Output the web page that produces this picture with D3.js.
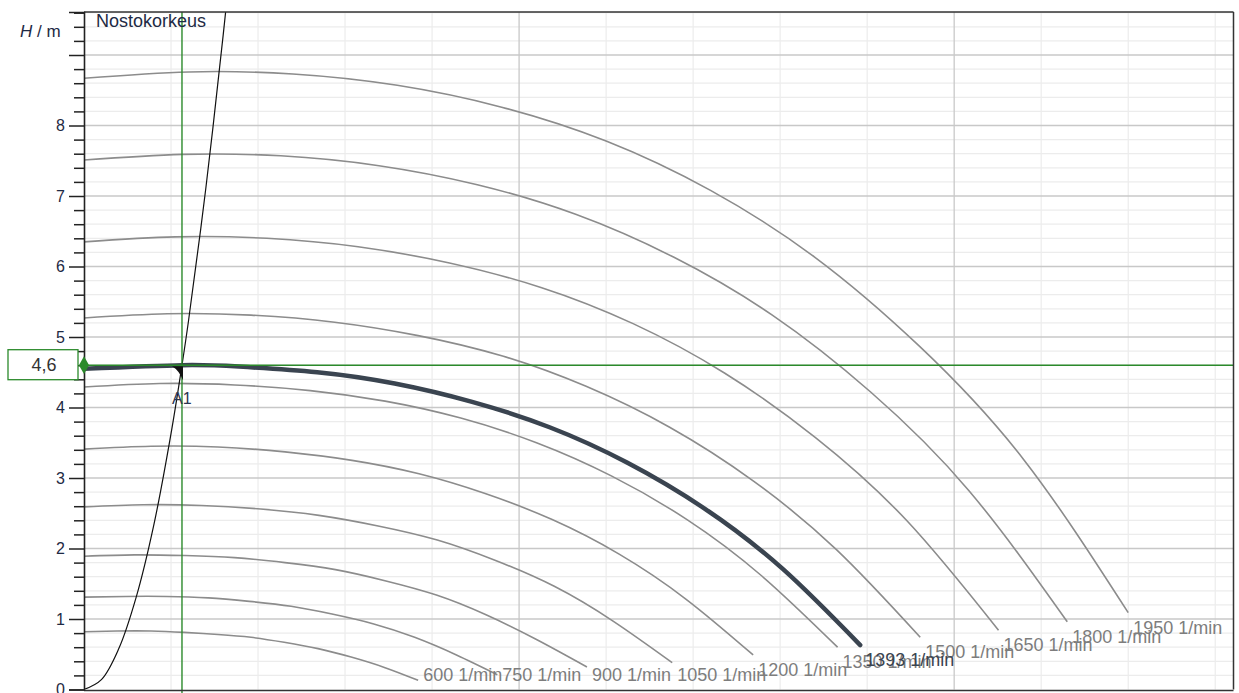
<!DOCTYPE html>
<html>
<head>
<meta charset="utf-8">
<script src="https://cdn.jsdelivr.net/npm/d3@7"></script>
<style>
  html, body { margin: 0; padding: 0; background: #fff; }
  svg { display: block; font-family: "Liberation Sans", Arial, sans-serif; }
</style>
</head>
<body>
<svg id="chart" width="1239" height="693"></svg>
<script>
// Pump speeds (1/min) and their head curves: flow Q (grid units) vs head H (m)
const speeds = [600, 750, 900, 1050, 1200, 1350, 1500, 1650, 1800, 1950];
const curveQ = {
  600:  [0, 0.38, 0.77, 1.15, 1.54, 1.92, 2.30, 2.69, 3.07, 3.46, 3.84],
  750:  [0, 0.48, 0.95, 1.43, 1.90, 2.38, 2.85, 3.33, 3.80, 4.28, 4.75],
  900:  [0, 0.58, 1.16, 1.73, 2.31, 2.89, 3.47, 4.05, 4.62, 5.20, 5.78],
  1050: [0, 0.68, 1.35, 2.03, 2.70, 3.38, 4.06, 4.73, 5.41, 6.08, 6.76],
  1200: [0, 0.77, 1.54, 2.31, 3.08, 3.85, 4.61, 5.38, 6.15, 6.92, 7.69],
  1350: [0, 0.87, 1.73, 2.60, 3.46, 4.33, 5.20, 6.06, 6.93, 7.79, 8.66],
  1500: [0, 0.96, 1.92, 2.88, 3.84, 4.81, 5.77, 6.73, 7.69, 8.65, 9.61],
  1650: [0, 1.05, 2.10, 3.15, 4.20, 5.26, 6.31, 7.36, 8.41, 9.46, 10.51],
  1800: [0, 1.13, 2.26, 3.39, 4.52, 5.65, 6.78, 7.91, 9.04, 10.17, 11.30],
  1950: [0, 1.20, 2.40, 3.60, 4.80, 6.00, 7.20, 8.40, 9.60, 10.80, 12.00]
};
const curveH = {
  600:  [0.82, 0.83, 0.83, 0.81, 0.78, 0.74, 0.67, 0.58, 0.46, 0.31, 0.13],
  750:  [1.31, 1.32, 1.32, 1.30, 1.25, 1.18, 1.07, 0.93, 0.74, 0.49, 0.21],
  900:  [1.89, 1.91, 1.90, 1.87, 1.80, 1.70, 1.54, 1.34, 1.06, 0.71, 0.32],
  1050: [2.59, 2.62, 2.61, 2.56, 2.47, 2.32, 2.12, 1.83, 1.46, 0.97, 0.38],
  1200: [3.41, 3.45, 3.44, 3.37, 3.25, 3.06, 2.78, 2.41, 1.92, 1.28, 0.49],
  1350: [4.29, 4.34, 4.32, 4.24, 4.09, 3.85, 3.50, 3.03, 2.41, 1.61, 0.60],
  1500: [5.27, 5.33, 5.31, 5.21, 5.02, 4.73, 4.30, 3.72, 2.96, 1.98, 0.74],
  1650: [6.35, 6.42, 6.40, 6.28, 6.05, 5.70, 5.19, 4.49, 3.57, 2.39, 0.84],
  1800: [7.51, 7.59, 7.57, 7.43, 7.16, 6.74, 6.13, 5.31, 4.22, 2.82, 0.96],
  1950: [8.67, 8.76, 8.73, 8.57, 8.26, 7.78, 7.08, 6.13, 4.87, 3.26, 1.09]
};

// Operating speed curve (bold)
const opSpeed = 1393;
const opQ = [0, 1.13, 1.78, 2.68, 3.57, 4.46, 5.35, 6.24, 7.14, 8.03, 8.92];
const opH = [4.55, 4.60, 4.58, 4.50, 4.34, 4.08, 3.72, 3.22, 2.56, 1.71, 0.63];

// System curve "Nostokorkeus"
const sysQ = [0, 0.2, 0.4, 0.6, 0.8, 1.0, 1.126, 1.2, 1.4, 1.6, 1.66];
const sysH = [0, 0.14, 0.58, 1.31, 2.32, 3.63, 4.6, 5.22, 7.11, 9.29, 10.0];

// Operating point
const pointQ = 1.126;
const pointH = 4.6;
const pointLabel = "A1";
const pointValueText = "4,6";

const yTicksMajor = [0, 1, 2, 3, 4, 5, 6, 7, 8, 9];
const yTickLabels = ["0", "1", "2", "3", "4", "5", "6", "7", "8", ""];
const yTitle = "H";
const yUnit = " / m";
const sysTitle = "Nostokorkeus";
const unitSuffix = " 1/min";

(function draw() {
  const svg = d3.select("#chart");
  const pL = 84, pR = 1233.5, pT = 12, pB = 689.5;

  const x = d3.scaleLinear().domain([0, 13.21]).range([pL, pR]);
  const y = d3.scaleLinear().domain([0, 9.61]).range([pB, pT]);

  svg.append("defs").append("clipPath").attr("id", "plotClip")
    .append("rect").attr("x", pL).attr("y", pT)
    .attr("width", pR - pL).attr("height", pB - pT);

  // Grid
  const grid = svg.append("g");
  const minorY = d3.range(0.2, 9.61, 0.2).filter(v => Math.abs(v - Math.round(v)) > 1e-6);
  grid.selectAll("line.hmin").data(minorY).join("line")
    .attr("x1", pL).attr("x2", pR)
    .attr("y1", d => y(d)).attr("y2", d => y(d))
    .attr("stroke", "#ececec").attr("stroke-width", 1.2);
  const minorX = d3.range(1, 14).filter(v => v % 5 !== 0 && x(v) < pR);
  grid.selectAll("line.vmin").data(minorX).join("line")
    .attr("x1", d => x(d)).attr("x2", d => x(d))
    .attr("y1", pT).attr("y2", pB)
    .attr("stroke", "#ececec").attr("stroke-width", 1.2);
  grid.selectAll("line.hmaj").data(yTicksMajor.slice(1)).join("line")
    .attr("x1", pL).attr("x2", pR)
    .attr("y1", d => y(d)).attr("y2", d => y(d))
    .attr("stroke", "#c8c8c8").attr("stroke-width", 1.3);
  grid.selectAll("line.vmaj").data([5, 10]).join("line")
    .attr("x1", d => x(d)).attr("x2", d => x(d))
    .attr("y1", pT).attr("y2", pB)
    .attr("stroke", "#c8c8c8").attr("stroke-width", 1.3);

  const line = d3.line().x(d => x(d[0])).y(d => y(d[1])).curve(d3.curveNatural);
  const plot = svg.append("g").attr("clip-path", "url(#plotClip)");

  // Speed curves
  speeds.forEach(s => {
    const pts = curveQ[s].map((q, i) => [q, curveH[s][i]]);
    plot.append("path").datum(pts).attr("d", line)
      .attr("fill", "none").attr("stroke", "#8c8c8c").attr("stroke-width", 1.6);
  });

  // Speed labels at curve ends
  const labelG = svg.append("g").attr("font-size", 18);
  function endLabel(q, h, text, color) {
    const ex = x(q), ey = y(h);
    labelG.append("text")
      .attr("x", ex + 5).attr("y", Math.min(ey + 21, 681))
      .attr("fill", color).text(text);
  }
  speeds.forEach(s => {
    const n = curveQ[s].length - 1;
    endLabel(curveQ[s][n], curveH[s][n], s + unitSuffix, "#7d7d7d");
  });

  // Bold operating curve
  const opPts = opQ.map((q, i) => [q, opH[i]]);
  plot.append("path").datum(opPts).attr("d", line)
    .attr("fill", "none").attr("stroke", "#3a4450").attr("stroke-width", 4.5)
    .attr("stroke-linecap", "round");
  endLabel(opQ[opQ.length - 1], opH[opH.length - 1], opSpeed + unitSuffix, "#3a4450");

  // System curve
  const sysPts = sysQ.map((q, i) => [q, sysH[i]]);
  plot.append("path").datum(sysPts)
    .attr("d", d3.line().x(d => x(d[0])).y(d => y(d[1])).curve(d3.curveCatmullRom))
    .attr("fill", "none").attr("stroke", "#111").attr("stroke-width", 1.2);

  // Green guide lines through the operating point
  const green = "#2b8a2b";
  svg.append("line").attr("x1", x(pointQ)).attr("x2", x(pointQ))
    .attr("y1", pT).attr("y2", pB + 4)
    .attr("stroke", green).attr("stroke-width", 1.4);
  svg.append("line").attr("x1", pL).attr("x2", pR)
    .attr("y1", y(pointH)).attr("y2", y(pointH))
    .attr("stroke", green).attr("stroke-width", 1.4);

  // Operating point marker
  const px = x(pointQ), py = y(pointH);
  svg.append("path")
    .attr("d", `M${px - 10},${py + 1} L${px + 1},${py + 1} L${px + 1},${py + 15} Q${px - 3},${py + 5} ${px - 10},${py + 1} Z`)
    .attr("fill", "#111");
  svg.append("text").attr("x", px - 10).attr("y", py + 39)
    .attr("font-size", 16).attr("fill", "#2a3550").text(pointLabel);

  // Axes frame
  const frame = svg.append("g").attr("stroke", "#333").attr("fill", "none");
  frame.append("line").attr("x1", pL).attr("x2", pR).attr("y1", pT).attr("y2", pT).attr("stroke-width", 1.5);
  frame.append("line").attr("x1", pR).attr("x2", pR).attr("y1", pT).attr("y2", pB).attr("stroke-width", 1.5);
  frame.append("line").attr("x1", pL).attr("x2", pR).attr("y1", pB + 1).attr("y2", pB + 1).attr("stroke-width", 1.5);

  // Y axis with major and minor ticks
  const yAxisMajor = d3.axisLeft(y).tickValues(yTicksMajor)
    .tickFormat((d, i) => yTickLabels[i]).tickSize(15).tickPadding(4);
  const yAxisG = svg.append("g").attr("transform", `translate(${pL},0)`).call(yAxisMajor);
  yAxisG.select(".domain").attr("stroke", "#222").attr("stroke-width", 1.6);
  yAxisG.selectAll(".tick line").attr("stroke", "#222").attr("stroke-width", 1.5);
  yAxisG.selectAll(".tick text").attr("font-size", 16).attr("fill", "#1e2a44")
    .attr("font-family", "Liberation Sans, Arial, sans-serif");
  const yAxisMinor = d3.axisLeft(y).tickValues(minorY).tickFormat("").tickSize(10);
  const yMinorG = svg.append("g").attr("transform", `translate(${pL},0)`).call(yAxisMinor);
  yMinorG.select(".domain").remove();
  yMinorG.selectAll(".tick line").attr("stroke", "#222").attr("stroke-width", 1.5);

  // Axis title
  const t = svg.append("text").attr("x", 20).attr("y", 37).attr("font-size", 17).attr("fill", "#1e2a44");
  t.append("tspan").attr("font-style", "italic").text(yTitle);
  t.append("tspan").text(yUnit);

  // System curve title
  svg.append("text").attr("x", 96).attr("y", 27).attr("font-size", 18).attr("fill", "#1e2a44").text(sysTitle);

  // Value box on the y axis
  svg.append("rect").attr("x", 8).attr("y", py - 15.5).attr("width", 70).attr("height", 30)
    .attr("fill", "#fff").attr("stroke", green).attr("stroke-width", 1.3);
  svg.append("text").attr("x", 44).attr("y", py + 6).attr("text-anchor", "middle")
    .attr("font-size", 18).attr("fill", "#333").text(pointValueText);
  svg.append("path")
    .attr("d", d3.symbol().type(d3.symbolDiamond).size(90)())
    .attr("transform", `translate(${pL},${py})`).attr("fill", green);
})();
</script>
</body>
</html>
